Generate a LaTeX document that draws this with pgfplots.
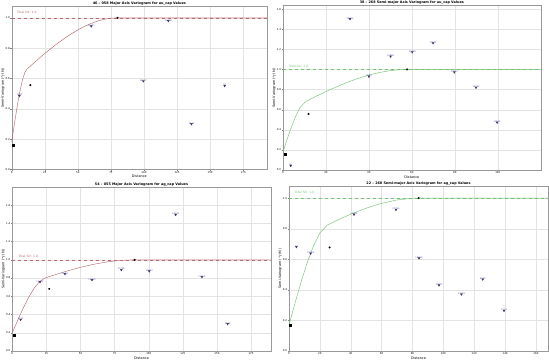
\documentclass[border=0pt]{standalone}
\usepackage{pgfplots}
\pgfplotsset{compat=1.18}
\usepackage{fontspec}
\setmainfont{DejaVu Sans}
\setsansfont{DejaVu Sans}
\definecolor{majc}{HTML}{B86A6E}
\definecolor{minc}{HTML}{74C274}
\definecolor{lblc}{HTML}{4A5FA8}
\definecolor{mkc}{HTML}{4B2C5E}
\pgfplotsset{
 vario/.style={
  scale only axis, anchor=south west,
  axis line style={gray!80, line width=0.35pt},
  grid=major, grid style={gray!22, line width=0.25pt},
  tick style={gray, line width=0.25pt}, major tick length=1.2pt,
  tick align=outside, xtick pos=bottom, ytick pos=left,
  tick label style={font=\fontsize{2.6}{3}\selectfont, inner sep=0.6pt},
  /pgf/number format/assume math mode=true,
  yticklabel style={/pgf/number format/.cd, fixed, fixed zerofill, precision=1},
  xticklabel style={/pgf/number format/.cd, fixed, precision=0},
  label style={font=\fontsize{3.4}{4}\selectfont},
  xlabel={Distance},
  xlabel style={at={(axis description cs:0.5,0)}, anchor=north, yshift=-5.3pt, inner sep=0pt},
  ylabel style={at={(axis description cs:-0.034,0.5)}, anchor=center, inner sep=0pt},
  ymin=0,
  clip=true,
 },
 labpts/.style={only marks, mark=triangle*, mark size=1.1pt,
  mark options={rotate=180, fill=mkc, draw=mkc},
  point meta=explicit symbolic,
  nodes near coords, nodes near coords style={font=\fontsize{2.2}{2.5}\selectfont, text=lblc, inner sep=0.4pt, yshift=-0.8pt}},
 nug/.style={only marks, mark=square*, mark size=1.0pt, black},
 rng/.style={only marks, mark=*, mark size=0.8pt, black},
}
\tikzset{ttl/.style={font=\bfseries\fontsize{3.4}{4}\selectfont, inner sep=0pt, anchor=center}}
\begin{document}
\begin{tikzpicture}
\useasboundingbox (0pt,0pt) rectangle (549pt,362pt);
% ---------- top left
\begin{axis}[vario, at={(11.7pt,192.5pt)}, width=255.3pt, height=163.5pt,
  ylabel={Semi-Variogram ($\gamma$(h))},
  xmin=0, xmax=193, ymax=1.078,
  xtick={0,25,...,175}, ytick={0,0.2,...,1.0}]
\addplot[majc, dashed, line width=0.4pt] coordinates {(0,1)(193,1)};
\addplot[majc, line width=0.45pt] coordinates {(0,0.18)(2,0.2975)(4,0.4086)(6,0.5072)(8,0.5866)(10,0.641)(11.4,0.6604)(15,0.6888)(20,0.7273)(25,0.7645)(30,0.8001)(35,0.8338)(40,0.8653)(45,0.8943)(50,0.9204)(55,0.9434)(60,0.963)(65,0.9787)(70,0.9903)(75,0.9975)(80,1.0)(193,1.0)};
\addplot[nug] coordinates {(0.8,0.159)};
\addplot[rng] coordinates {(14.1,0.556)(80,1.0)};
\addplot[labpts] table[meta=l] {
x y l
5.8 0.486 1245
60.1 0.945 15261
99.5 0.583 18527
118.4 0.980 12386
135.9 0.300 9143
161.0 0.552 52
};
\node[anchor=west, font=\fontsize{3}{3.5}\selectfont, text=majc] at (axis cs:1.5,1.035) {Total Sill: 1.0};
\end{axis}
\node[ttl] at (139.35pt,358.2pt) {46 -- 058 Major Axis Variogram for au\_cap Values};
% ---------- top right
\begin{axis}[vario, at={(283pt,192pt)}, width=257.7pt, height=164.5pt,
  ylabel={Semi-Variogram ($\gamma$(h))},
  xmin=0, xmax=120, ymax=1.636,
  xtick={0,20,...,100}, ytick={0,0.2,...,1.6}]
\addplot[minc, dashed, line width=0.4pt] coordinates {(0,1)(120,1)};
\addplot[minc, line width=0.45pt] coordinates {(0,0.18)(2,0.3105)(4,0.4331)(6,0.5397)(8,0.6225)(10.5,0.680)(15,0.7287)(20,0.7801)(25,0.8284)(30,0.8724)(35,0.9112)(40,0.944)(45,0.9702)(50,0.9886)(55,0.9985)(57.8,1.0)(120,1.0)};
\addplot[nug] coordinates {(0.8,0.16)};
\addplot[rng] coordinates {(11.9,0.557)(57.8,1.0)};
\addplot[labpts] table[meta=l] {
x y l
3.6 0.043 86
31.2 1.503 18764
40.0 0.930 9562
50.1 1.130 12358
60.2 1.173 16928
69.9 1.263 19672
79.8 0.973 15637
89.9 0.820 16262
99.7 0.473 12552
};
\node[anchor=west, font=\fontsize{3}{3.5}\selectfont, text=minc] at (axis cs:1,1.03) {Total Sill: 1.0};
\end{axis}
\node[ttl] at (411.85pt,359.2pt) {38 -- 268 Semi-major Axis Variogram for au\_cap Values};
% ---------- bottom left
\begin{axis}[vario, at={(12.3pt,11pt)}, width=258.4pt, height=164pt,
  ylabel={Semi-Variogram ($\gamma$(h))},
  xmin=0, xmax=189.4, ymax=1.798,
  xtick={0,25,...,175}, ytick={0,0.2,...,1.6}]
\addplot[majc, dashed, line width=0.4pt] coordinates {(0,1)(189.4,1)};
\addplot[majc, line width=0.45pt] coordinates {(0,0.2)(4,0.3387)(8,0.4707)(12,0.5894)(16,0.6883)(20,0.7606)(24,0.800)(30,0.8299)(40,0.8765)(50,0.9176)(60,0.9519)(70,0.978)(80,0.9944)(89.7,1.0)(189.4,1.0)};
\addplot[nug] coordinates {(1.2,0.168)};
\addplot[rng] coordinates {(27.1,0.681)(89.7,1.0)};
\addplot[labpts] table[meta=l] {
x y l
6.1 0.344 1352
20.3 0.758 16472
38.6 0.846 18361
58.4 0.780 16735
79.9 0.890 17285
100.4 0.875 13652
119.7 1.494 16239
139.0 0.813 11765
157.8 0.297 5178
};
\node[anchor=west, font=\fontsize{3}{3.5}\selectfont, text=majc] at (axis cs:2,1.04) {Total Sill: 1.0};
\end{axis}
\node[ttl] at (141.5pt,177.2pt) {54 -- 055 Major Axis Variogram for ag\_cap Values};
% ---------- bottom right
\begin{axis}[vario, at={(289pt,11pt)}, width=259pt, height=165pt,
  ylabel={Semi-Variogram ($\gamma$(h))},
  xmin=0, xmax=167.8, ymax=1.079,
  xtick={0,20,...,160}, ytick={0,0.2,...,1.0}]
\addplot[minc, dashed, line width=0.4pt] coordinates {(0,1)(167.8,1)};
\addplot[minc, line width=0.45pt] coordinates {(0,0.17)(4,0.3168)(8,0.457)(12,0.584)(16,0.6909)(20,0.7712)(24.8,0.8233)(30,0.849)(40,0.8947)(50,0.9341)(60,0.9657)(70,0.9878)(80,0.999)(84,1.0)(167.8,1.0)};
\addplot[nug] coordinates {(0.6,0.166)};
\addplot[rng] coordinates {(26.3,0.677)(84,1.0)};
\addplot[labpts] table[meta=l] {
x y l
4.8 0.681 97
14.0 0.638 10563
42.1 0.893 17228
69.3 0.924 27796
84.2 0.607 16620
97.2 0.430 17577
111.7 0.371 13729
125.5 0.469 8679
139.3 0.264 7574
};
\node[anchor=west, font=\fontsize{3}{3.5}\selectfont, text=minc] at (axis cs:1.5,1.035) {Total Sill: 1.0};
\end{axis}
\node[ttl] at (418.5pt,178.6pt) {22 -- 268 Semi-major Axis Variogram for ag\_cap Values};
\end{tikzpicture}
\end{document}
